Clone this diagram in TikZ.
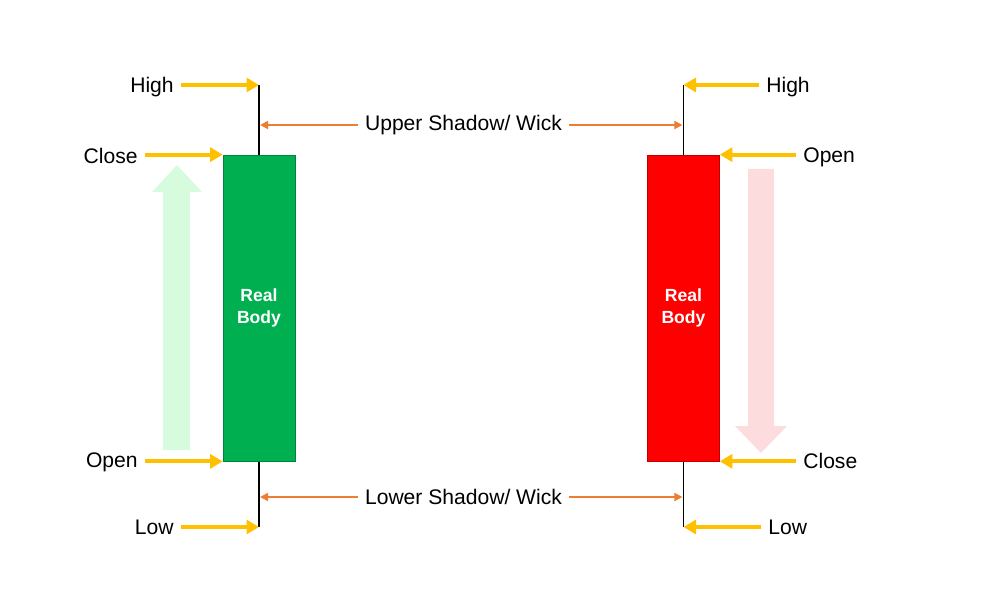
\documentclass[tikz,border=0pt]{standalone}
\usepackage{fontspec}
\setmainfont{Liberation Sans}
\usetikzlibrary{arrows.meta}
\definecolor{bullgreen}{HTML}{00B050}
\definecolor{beared}{HTML}{FF0000}
\definecolor{pointer}{HTML}{FFC000}
\definecolor{shadowline}{HTML}{ED7D31}
\definecolor{lightup}{HTML}{D6FCDD}
\definecolor{lightdown}{HTML}{FCDCDC}
\tikzset{
    label/.style={font=\fontsize{12}{14}\selectfont, inner xsep=0.14cm, inner ysep=0.06cm},
    pricearrow/.style={draw=pointer, line width=2.3pt, -{Triangle[length=0.25cm,width=0.28cm]}},
    shadowarrow/.style={draw=shadowline, line width=1.1pt, -{Triangle[length=0.16cm,width=0.16cm]}},
    candle/.style={minimum width=1.44cm, minimum height=6.12cm, inner sep=0pt, text=white,
        align=center, font=\bfseries\fontsize{10}{13}\selectfont},
}
\begin{document}
\begin{tikzpicture}
        \useasboundingbox (0,0) rectangle (20,12);
        %% Direction arrows
        \fill[lightup] (3.26,3.0) -- (3.8,3.0) -- (3.8,8.16) -- (4.04,8.16)
            -- (3.54,8.7) -- (3.04,8.16) -- (3.26,8.16) -- cycle;
        \fill[lightdown] (14.96,8.62) -- (15.48,8.62) -- (15.48,3.48) -- (15.74,3.48)
            -- (15.22,2.94) -- (14.7,3.48) -- (14.96,3.48) -- cycle;
        %% Wicks
        \coordinate (lhigh) at (5.18,10.3);
        \coordinate (llow) at (5.18,1.46);
        \coordinate (rhigh) at (13.67,10.3);
        \coordinate (rlow) at (13.67,1.46);
        \draw[line width=1.1pt] (lhigh) -- (llow);
        \draw[line width=1.1pt] (rhigh) -- (rlow);
        %% Bodies
        \node[candle, fill=bullgreen, draw=black!25!bullgreen] (lbody) at (5.18,5.84) {Real\\Body};
        \node[candle, fill=beared, draw=black!25!beared] (rbody) at (13.67,5.84) {Real\\Body};
        %% Left labels
        \node[label, anchor=east] (lhightxt) at (3.62,10.26) {High};
        \node[label, anchor=east] (lclose) at (2.9,8.88) {Close};
        \node[label, anchor=east] (lopen) at (2.9,2.76) {Open};
        \node[label, anchor=east] (llowtxt) at (3.62,1.46) {Low};
        \draw[pricearrow] (lhightxt.east |- lhigh) -- (lhigh);
        \draw[pricearrow] (lclose.east |- lbody.north) -- (lbody.north west);
        \draw[pricearrow] (lopen.east |- lbody.south) -- (lbody.south west);
        \draw[pricearrow] (llowtxt.east |- llow) -- (llow);
        %% Right labels
        \node[label, anchor=west] (rhightxt) at (15.18,10.26) {High};
        \node[label, anchor=west] (ropen) at (15.92,8.86) {Open};
        \node[label, anchor=west] (rclose) at (15.92,2.78) {Close};
        \node[label, anchor=west] (rlowtxt) at (15.22,1.46) {Low};
        \draw[pricearrow] (rhightxt.west |- rhigh) -- (rhigh);
        \draw[pricearrow] (ropen.west |- rbody.north) -- (rbody.north east);
        \draw[pricearrow] (rclose.west |- rbody.south) -- (rbody.south east);
        \draw[pricearrow] (rlowtxt.west |- rlow) -- (rlow);
        %% Shadows
        \node[label, inner xsep=0.14cm] (upper) at (9.27,9.5) {Upper Shadow/ Wick};
        \node[label, inner xsep=0.14cm] (lower) at (9.27,2.06) {Lower Shadow/ Wick};
        \draw[shadowarrow] (upper.west) -- ([xshift=0.6pt]upper.west -| lhigh);
        \draw[shadowarrow] (upper.east) -- ([xshift=-0.6pt]upper.east -| rhigh);
        \draw[shadowarrow] (lower.west) -- ([xshift=0.6pt]lower.west -| llow);
        \draw[shadowarrow] (lower.east) -- ([xshift=-0.6pt]lower.east -| rlow);
    \end{tikzpicture}
\end{document}
